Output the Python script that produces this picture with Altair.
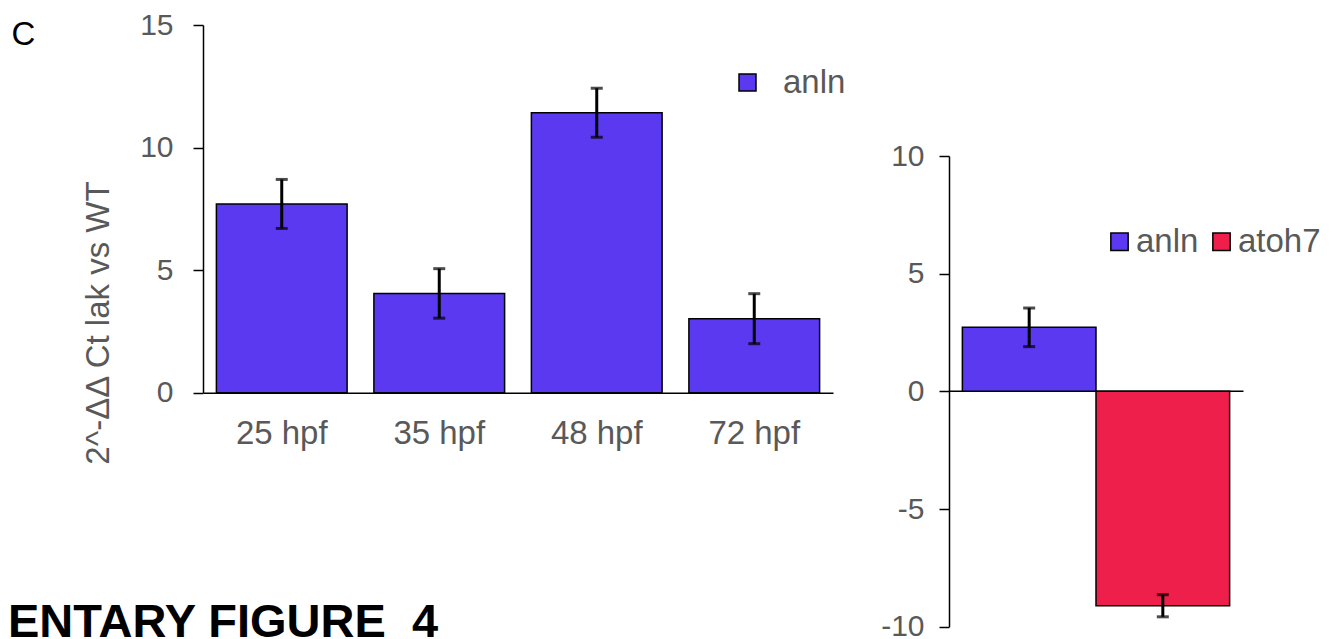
import altair as alt
import pandas as pd

# ---- data ----
left_cats = ["25 hpf", "35 hpf", "48 hpf", "72 hpf"]
left_vals = [7.70, 4.05, 11.42, 3.02]
left_errs = [1.00, 1.01, 1.00, 1.02]
left_gene = ["anln", "anln", "anln", "anln"]

right_genes = ["anln", "atoh7"]
right_vals = [2.72, -9.11]
right_errs = [0.82, 0.47]

left_ticks = [0, 5, 10, 15]
right_ticks = [-10, -5, 0, 5, 10]

y_title = "2^-ΔΔ Ct lak vs WT"
panel_letter = ["C"]
footer = ["ENTARY FIGURE\u00a0\u00a04"]

BLUE = "#5B39F0"
RED = "#EE1F4B"
GRAY = "#595959"
FONT = "Liberation Sans"

W, H = 1040, 602

left_df = pd.DataFrame({"cat": left_cats, "val": left_vals, "err": left_errs, "gene": left_gene})
left_df["hi"] = left_df["val"] + left_df["err"]
left_df["lo"] = left_df["val"] - left_df["err"]

right_df = pd.DataFrame({"gene": right_genes, "val": right_vals, "err": right_errs})
right_df["hi"] = right_df["val"] + right_df["err"]
right_df["lo"] = right_df["val"] - right_df["err"]

# ---- left panel ----
lx_scale = alt.Scale(domain=left_cats, range=[0, 630], paddingInner=0.17, paddingOuter=0.085)
lx_axis = alt.Axis(orient="bottom", offset=-(H - 367.7), title=None, labelAngle=0, ticks=False,
                   tickSize=0, labelPadding=51, labelBaseline="alphabetic", labelFontSize=33,
                   labelColor=GRAY, labelFont=FONT, domainColor="black", domainWidth=1.5)
ly_scale = alt.Scale(domain=[0, 15], range=[367.7, 0], nice=False)
ly_axis = alt.Axis(orient="left", values=left_ticks, title=y_title, titleFontSize=33, titleColor=GRAY,
                   titleFont=FONT, titleFontWeight="normal", titleAngle=270, titleX=-105, titleY=297.5,
                   titleAlign="center", titleBaseline="middle", tickSize=10, tickColor="black",
                   tickWidth=1.5, labelPadding=20, labelFontSize=30, labelColor=GRAY, labelFont=FONT,
                   domainColor="black", domainWidth=1.5, grid=False)

lbase = alt.Chart(left_df)
l_bars = lbase.mark_bar(stroke="black", strokeWidth=1.5).encode(
    x=alt.X("cat:N", sort=left_cats, scale=lx_scale, axis=lx_axis),
    y=alt.Y("val:Q", scale=ly_scale, axis=ly_axis),
    color=alt.Color("gene:N", scale=alt.Scale(domain=["anln"], range=[BLUE]),
                    legend=alt.Legend(title=None, orient="none", legendX=528, legendY=41,
                                      symbolType="square", symbolSize=289, symbolStrokeColor="black",
                                      symbolStrokeWidth=1.5, symbolOpacity=1, labelFontSize=33,
                                      labelColor=GRAY, labelFont=FONT, labelOffset=19, padding=0)),
)
l_rules = lbase.mark_rule(color="black", strokeWidth=3).encode(
    x=alt.X("cat:N", sort=left_cats, scale=lx_scale, axis=lx_axis),
    y=alt.Y("hi:Q", scale=ly_scale, axis=ly_axis),
    y2="lo:Q",
)
l_cap_hi = lbase.mark_tick(color="black", thickness=3, size=12).encode(
    x=alt.X("cat:N", sort=left_cats, scale=lx_scale, axis=lx_axis),
    y=alt.Y("hi:Q", scale=ly_scale, axis=ly_axis),
)
l_cap_lo = lbase.mark_tick(color="black", thickness=3, size=12).encode(
    x=alt.X("cat:N", sort=left_cats, scale=lx_scale, axis=lx_axis),
    y=alt.Y("lo:Q", scale=ly_scale, axis=ly_axis),
)
left = alt.layer(l_bars, l_rules, l_cap_hi, l_cap_lo)

# ---- right panel ----
rx_scale = alt.Scale(domain=right_genes, range=[746, 1040], paddingInner=0, paddingOuter=0.1)
rx_axis = alt.Axis(orient="bottom", offset=-(H - 365.7), title=None, labels=False, ticks=False,
                   domainColor="black", domainWidth=1.5)
ry_scale = alt.Scale(domain=[-10, 10], range=[601.7, 131], nice=False, zero=False)
ry_axis = alt.Axis(orient="left", offset=-746, values=right_ticks, title=None, tickSize=10,
                   tickColor="black", tickWidth=1.5, labelPadding=15, labelFontSize=30,
                   labelExpr="'' + datum.value",
                   labelColor=GRAY, labelFont=FONT, domainColor="black", domainWidth=1.5, grid=False)

rbase = alt.Chart(right_df)
r_bars = rbase.mark_bar(stroke="black", strokeWidth=1.5).encode(
    x=alt.X("gene:N", sort=right_genes, scale=rx_scale, axis=rx_axis),
    y=alt.Y("val:Q", scale=ry_scale, axis=ry_axis),
    y2=alt.datum(0),
    color=alt.Color("gene:N", scale=alt.Scale(domain=right_genes, range=[BLUE, RED]),
                    legend=alt.Legend(title=None, orient="none", direction="horizontal",
                                      legendX=900, legendY=200, symbolType="square", symbolSize=300,
                                      symbolStrokeColor="black", symbolStrokeWidth=1.5, symbolOpacity=1,
                                      labelFontSize=33, labelColor=GRAY, labelFont=FONT,
                                      labelOffset=0, columnPadding=6, padding=0)),
)
r_rules = rbase.mark_rule(color="black", strokeWidth=3).encode(
    x=alt.X("gene:N", sort=right_genes, scale=rx_scale, axis=rx_axis),
    y=alt.Y("hi:Q", scale=ry_scale, axis=ry_axis),
    y2="lo:Q",
)
r_cap_hi = rbase.mark_tick(color="black", thickness=3, size=12).encode(
    x=alt.X("gene:N", sort=right_genes, scale=rx_scale, axis=rx_axis),
    y=alt.Y("hi:Q", scale=ry_scale, axis=ry_axis),
)
r_cap_lo = rbase.mark_tick(color="black", thickness=3, size=12).encode(
    x=alt.X("gene:N", sort=right_genes, scale=rx_scale, axis=rx_axis),
    y=alt.Y("lo:Q", scale=ry_scale, axis=ry_axis),
)
right = alt.layer(r_bars, r_rules, r_cap_hi, r_cap_lo)

# ---- annotations ----
letter = alt.Chart(pd.DataFrame({"t": panel_letter})).mark_text(
    font=FONT, fontSize=33, color="black", align="left", baseline="alphabetic"
).encode(x=alt.value(-191.5), y=alt.value(20), text="t:N")

foot = alt.Chart(pd.DataFrame({"t": footer})).mark_text(
    font=FONT, fontSize=47, fontWeight="bold", color="black", align="left", baseline="alphabetic"
).encode(x=alt.value(-195), y=alt.value(612), text="t:N")

chart = (
    alt.layer(left, right, letter, foot)
    .resolve_scale(x="independent", y="independent", color="independent")
    .resolve_axis(x="independent", y="independent")
    .resolve_legend(color="independent")
    .properties(width=W, height=H,
                padding={"left": 195, "top": 17, "right": 86, "bottom": 12},
                autosize=alt.AutoSizeParams(type="none"))
    .configure(font=FONT)
    .configure_view(stroke=None)
)

chart.save("out.html", embed_options={"renderer": "svg", "actions": False})
